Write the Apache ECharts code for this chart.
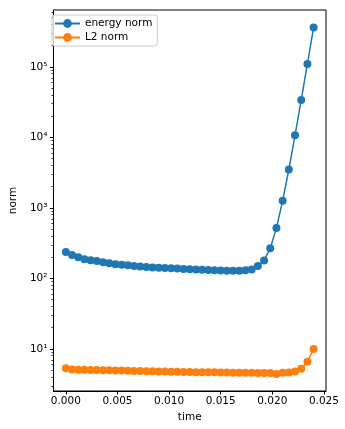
<!DOCTYPE html>
<html><head><meta charset="utf-8">
<script src="https://cdn.jsdelivr.net/npm/echarts@6/dist/echarts.min.js"></script>
<style>html,body{margin:0;padding:0;background:#fff}#c{width:345px;height:429px}</style>
</head><body><div id="c"></div>
<script>
const time = [0.0000, 0.0006, 0.0012, 0.0018, 0.0024, 0.0030, 0.0036, 0.0042, 0.0048, 0.0054,
  0.0060, 0.0066, 0.0072, 0.0078, 0.0084, 0.0090, 0.0096, 0.0102, 0.0108, 0.0114,
  0.0120, 0.0126, 0.0132, 0.0138, 0.0144, 0.0150, 0.0156, 0.0162, 0.0168, 0.0174,
  0.0180, 0.0186, 0.0192, 0.0198, 0.0204, 0.0210, 0.0216, 0.0222, 0.0228, 0.0234, 0.0240];
const energyNorm = [237, 214, 200, 187, 181, 176, 169, 164, 159, 156,
  153, 150, 147, 145, 143, 141, 140, 139, 138, 136,
  135, 134, 133, 132, 131, 129, 128, 128, 128, 130,
  134, 150, 180, 268, 520, 1260, 3500, 10700, 34000, 110000, 362000];
const l2Norm = [5.3, 5.1, 5.08, 5.06, 5.04, 5.02, 5.0, 4.98, 4.95, 4.93,
  4.9, 4.88, 4.86, 4.84, 4.82, 4.8, 4.78, 4.76, 4.74, 4.72,
  4.7, 4.68, 4.67, 4.66, 4.65, 4.63, 4.62, 4.61, 4.6, 4.59,
  4.58, 4.57, 4.56, 4.55, 4.42, 4.58, 4.62, 4.78, 5.25, 6.6, 10.0];
const xTicks = [0, 0.005, 0.010, 0.015, 0.020, 0.025];
const yMajorTicks = [10, 100, 1000, 10000, 100000];
const yMinorTicks = [3,4,5,6,7,8,9, 20,30,40,50,60,70,80,90, 200,300,400,500,600,700,800,900,
  2000,3000,4000,5000,6000,7000,8000,9000, 20000,30000,40000,50000,60000,70000,80000,90000,
  200000,300000,400000,500000,600000];
const sup = {'0':'⁰','1':'¹','2':'²','3':'³','4':'⁴','5':'⁵','6':'⁶','7':'⁷','8':'⁸','9':'⁹'};

const FONT = 'DejaVu Sans';
const chart = echarts.init(document.getElementById('c'), null, {renderer: 'canvas'});
const pair = (a) => time.map((t, i) => [t, a[i]]);
const yMin = 2.53, yMax = 640000;
chart.setOption({
  animation: false,
  backgroundColor: '#fff',
  textStyle: {fontFamily: FONT},
  grid: {left: 47, right: 19, top: 10, bottom: 38, show: true, borderColor: '#000', borderWidth: 1, backgroundColor: 'transparent'},
  legend: {
    left: 52, top: 15, orient: 'vertical',
    padding: [3, 5, 3, 2], itemGap: 3, itemWidth: 25, itemHeight: 11,
    backgroundColor: 'rgba(255,255,255,0.8)', borderColor: '#cccccc', borderWidth: 1, borderRadius: 3,
    textStyle: {fontFamily: FONT, fontSize: 10.5, color: '#000'},
    data: ['energy norm', 'L2 norm']
  },
  xAxis: {
    type: 'value', min: -0.0012, max: 0.0252,
    name: 'time', nameLocation: 'middle', nameGap: 20,
    nameTextStyle: {fontFamily: FONT, fontSize: 10.5, color: '#000'},
    axisLine: {show: true, onZero: false, lineStyle: {color: '#000', width: 1}},
    axisTick: {show: true, length: 3.5, lineStyle: {color: '#000'}, customValues: xTicks},
    axisLabel: {fontFamily: FONT, fontSize: 10.5, color: '#000', margin: 5, customValues: xTicks,
      formatter: v => v.toFixed(3)},
    splitLine: {show: false}
  },
  yAxis: [{
    type: 'log', logBase: 10, min: yMin, max: yMax,
    name: 'norm', nameLocation: 'middle', nameGap: 31, nameRotate: 90,
    nameTextStyle: {fontFamily: FONT, fontSize: 10.5, color: '#000'},
    axisLine: {show: true, onZero: false, lineStyle: {color: '#000', width: 1}},
    axisTick: {show: true, length: 3.5, lineStyle: {color: '#000'}, customValues: yMajorTicks},
    axisLabel: {fontFamily: FONT, fontSize: 10.5, color: '#000', margin: 6, customValues: yMajorTicks,
      formatter: v => '10' + String(Math.round(Math.log10(v))).split('').map(c => sup[c]).join('')},
    splitLine: {show: false}, minorTick: {show: false}, minorSplitLine: {show: false}
  }, {
    type: 'log', logBase: 10, min: yMin, max: yMax, position: 'left', offset: 0,
    axisLine: {show: false, onZero: false},
    axisTick: {show: true, length: 2, lineStyle: {color: '#000', width: 0.8}, customValues: yMinorTicks},
    axisLabel: {show: false},
    splitLine: {show: false}
  }],
  series: [{
    name: 'energy norm', type: 'line', yAxisIndex: 0, data: pair(energyNorm),
    symbol: 'circle', symbolSize: 8, showSymbol: true,
    lineStyle: {color: '#1f77b4', width: 1.5}, itemStyle: {color: '#1f77b4'}
  }, {
    name: 'L2 norm', type: 'line', yAxisIndex: 0, data: pair(l2Norm),
    symbol: 'circle', symbolSize: 8, showSymbol: true,
    lineStyle: {color: '#ff7f0e', width: 1.5}, itemStyle: {color: '#ff7f0e'}
  }]
});
</script></body></html>
